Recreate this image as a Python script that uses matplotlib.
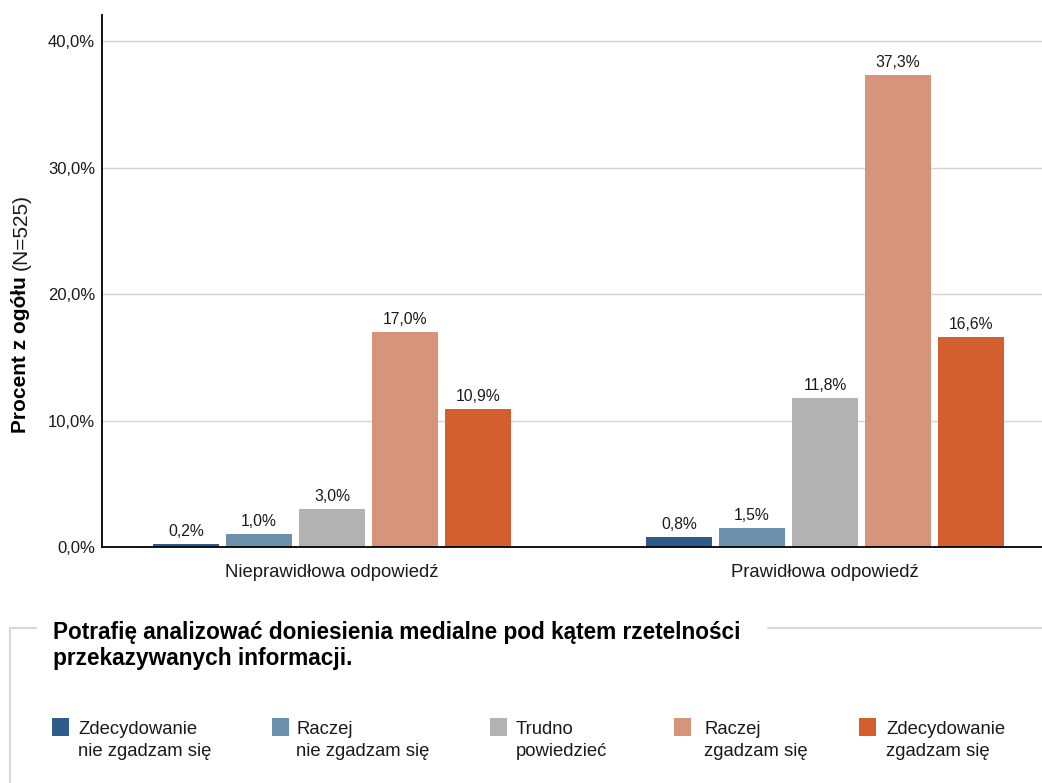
import matplotlib
matplotlib.use("Agg")
import matplotlib.pyplot as plt
from matplotlib.lines import Line2D
from matplotlib.patches import Rectangle
from matplotlib.transforms import blended_transform_factory

plt.rcParams['font.family'] = ['Liberation Sans', 'DejaVu Sans']

# Data
groups = ["Nieprawidłowa odpowiedź", "Prawidłowa odpowiedź"]
series_names = ["Zdecydowanie\nnie zgadzam się", "Raczej\nnie zgadzam się",
                "Trudno\npowiedzieć", "Raczej\nzgadzam się", "Zdecydowanie\nzgadzam się"]
incorrect = [0.2, 1.0, 3.0, 17.0, 10.9]
correct = [0.8, 1.5, 11.8, 37.3, 16.6]
colors = ["#2E5B8A", "#6C91AD", "#B3B3B3", "#D6957A", "#D45F2E"]
yticks = [0, 10, 20, 30, 40]
title_lines = ["Potrafię analizować doniesienia medialne pod kątem rzetelności",
               "przekazywanych informacji."]

W, H = 1042, 783
fig = plt.figure(figsize=(W / 100, H / 100), dpi=100)


def fx(px):
    return px / W


def fy(py):
    return 1 - py / H


def pct(v):
    return f"{v:.1f}%".replace(".", ",")


ax = fig.add_axes([fx(102), fy(547), fx(1042) - fx(102), fy(15) - fy(547)])

values = [incorrect, correct]
step = 0.148
width = 0.134
for si in range(len(series_names)):
    xs = [gi + (si - 2) * step for gi in range(len(groups))]
    hs = [values[gi][si] for gi in range(len(groups))]
    bars = ax.bar(xs, hs, width=width, color=colors[si], zorder=3)
    for b, v in zip(bars, hs):
        ax.annotate(pct(v), (b.get_x() + b.get_width() / 2, v),
                    xytext=(0, 5.8), textcoords="offset points",
                    ha="center", va="baseline", fontsize=11.3, color="#1a1a1a")

ax.set_xlim(-0.4665, 1.440)
ax.set_ylim(0, 42.06)
ax.set_yticks(yticks)
ax.set_yticklabels([pct(t) for t in yticks], fontsize=12, color="#1a1a1a")
ax.set_xticks([])
group_tf = blended_transform_factory(ax.transData, fig.transFigure)
for gi, g in enumerate(groups):
    ax.text(gi, fy(577), g, transform=group_tf, ha="center", va="baseline",
            fontsize=13.3, color="#1a1a1a", clip_on=False)
ax.tick_params(axis="both", length=0)
ax.tick_params(axis="y", pad=5)
ax.grid(axis="y", color="#d4d4d4", linewidth=1, zorder=0)
ax.set_axisbelow(True)
for s in ["top", "right"]:
    ax.spines[s].set_visible(False)
for s in ["left", "bottom"]:
    ax.spines[s].set_color("black")
    ax.spines[s].set_linewidth(1.3)
    ax.spines[s].set_zorder(4)

# Y axis label: bold part + sample size
fig.text(fx(20), fy(433), "Procent z ogółu", rotation=90, rotation_mode="anchor",
         ha="left", va="center", fontsize=15, fontweight="bold", color="black")
fig.text(fx(21), fy(270), "(N=525)", rotation=90, rotation_mode="anchor",
         ha="left", va="center", fontsize=15, color="#1a1a1a")

# Legend frame
frame_color = "#d0d0d0"
fig.add_artist(Line2D([fx(10), fx(10)], [fy(628), fy(783)], color=frame_color, lw=1.2))
fig.add_artist(Line2D([fx(10), fx(36)], [fy(628), fy(628)], color=frame_color, lw=1.2))
fig.add_artist(Line2D([fx(768), fx(1042)], [fy(628), fy(628)], color=frame_color, lw=1.2))
for line, base in zip(title_lines, [639, 665]):
    fig.text(fx(53), fy(base), line, ha="left", va="baseline", fontsize=16.3,
             fontweight="bold", color="black")

sq_x = [52, 272, 490, 674, 859]
txt_x = [78, 296, 516, 704, 886]
for name, c, sx, tx in zip(series_names, colors, sq_x, txt_x):
    fig.add_artist(Rectangle((fx(sx), fy(736)), fx(17), fy(718) - fy(736),
                             facecolor=c, edgecolor="none"))
    for line, base in zip(name.split("\n"), [734, 756]):
        fig.text(fx(tx), fy(base), line, ha="left", va="baseline", fontsize=13.3,
                 color="#1a1a1a")

fig.savefig("out.png", dpi=100)
